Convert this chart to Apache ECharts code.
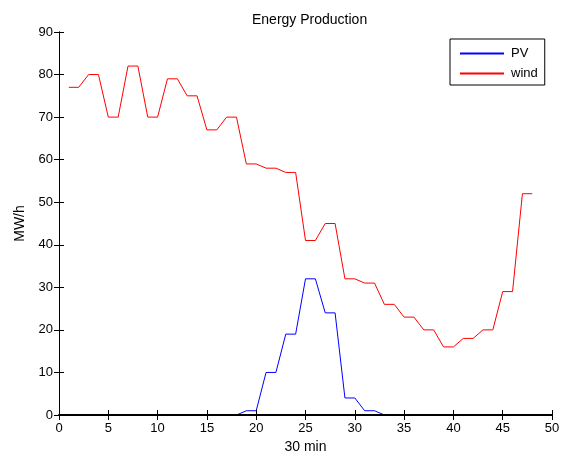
<!DOCTYPE html>
<html>
<head>
<meta charset="utf-8">
<script src="https://cdn.jsdelivr.net/npm/echarts@6/dist/echarts.min.js"></script>
<style>
  html, body { margin: 0; padding: 0; background: #fff; }
  #main { width: 563px; height: 459px; }
</style>
</head>
<body>
<div id="main"></div>
<script>
// half-hour slots 1..48
var slots = [1, 2, 3, 4, 5, 6, 7, 8, 9, 10, 11, 12, 13, 14, 15, 16, 17, 18, 19, 20, 21, 22, 23, 24,
    25, 26, 27, 28, 29, 30, 31, 32, 33, 34, 35, 36, 37, 38, 39, 40, 41, 42, 43, 44, 45, 46, 47, 48];

var pv = [0, 0, 0, 0, 0, 0, 0, 0, 0, 0, 0, 0, 0, 0, 0, 0, 0, 0, 1, 1, 10, 10, 19, 19,
    32, 32, 24, 24, 4, 4, 1, 1, 0, 0, 0, 0, 0, 0, 0, 0, 0, 0, 0, 0, 0, 0, 0, 0];

var wind = [77, 77, 80, 80, 70, 70, 82, 82, 70, 70, 79, 79, 75, 75, 67, 67, 70, 70, 59, 59, 58, 58, 57, 57,
    41, 41, 45, 45, 32, 32, 31, 31, 26, 26, 23, 23, 20, 20, 16, 16, 18, 18, 20, 20, 29, 29, 52, 52];

var seriesNames = ['PV', 'wind'];
var seriesColors = ['#0000ff', '#ff0000'];

function pairs(xs, ys) {
    return xs.map(function (x, i) { return [x, ys[i]]; });
}

var font = 'Liberation Sans, Arial, sans-serif';

var myChart = echarts.init(document.getElementById('main'));

// box axes: labels only on bottom/left, ticks inward on all four sides
var boxAxis = {
    min: 0,
    axisLine: { show: true, lineStyle: { color: '#000', width: 1 } },
    axisTick: { show: true, inside: true, length: 5, lineStyle: { color: '#000' } },
    splitLine: { show: false },
    z: 10
};

myChart.setOption({
    animation: false,
    backgroundColor: '#fff',
    title: {
        text: 'Energy Production',
        left: 247,
        top: 8,
        textStyle: { fontFamily: font, fontSize: 14, fontWeight: 'normal', color: '#000' }
    },
    legend: {
        data: seriesNames,
        orient: 'vertical',
        left: 450,
        top: 39,
        padding: [8, 7, 5, 9],
        itemGap: 7,
        itemWidth: 44,
        itemHeight: 14,
        // hide the symbol, keep only the line
        itemStyle: { opacity: 0 },
        backgroundColor: '#fff',
        borderColor: '#000',
        borderWidth: 1,
        borderRadius: 0,
        textStyle: { fontFamily: font, fontSize: 13, color: '#000', padding: [0, 0, 0, 2] }
    },
    grid: {
        left: 59,
        right: 11,
        top: 32,
        bottom: 39,
        containLabel: false
    },
    xAxis: [
        Object.assign({}, boxAxis, {
            type: 'value',
            max: 50,
            interval: 5,
            position: 'bottom',
            name: '30 min',
            nameLocation: 'middle',
            nameGap: 25,
            nameTextStyle: { fontFamily: font, fontSize: 14, color: '#000' },
            // a bit heavier so the zero part of PV stays hidden under it
            axisLine: { show: true, lineStyle: { color: '#000', width: 2 } },
            axisLabel: { fontFamily: font, fontSize: 13, color: '#000', margin: 7 }
        }),
        Object.assign({}, boxAxis, {
            type: 'value',
            max: 50,
            interval: 5,
            position: 'top',
            axisLabel: { show: false }
        })
    ],
    yAxis: [
        Object.assign({}, boxAxis, {
            type: 'value',
            max: 90,
            interval: 10,
            position: 'left',
            name: 'MW/h',
            nameLocation: 'middle',
            nameGap: 30,
            nameTextStyle: { fontFamily: font, fontSize: 14, color: '#000' },
            axisLabel: { fontFamily: font, fontSize: 13, color: '#000', margin: 6 }
        }),
        Object.assign({}, boxAxis, {
            type: 'value',
            max: 90,
            interval: 10,
            position: 'right',
            axisLabel: { show: false }
        })
    ],
    series: [
        {
            name: 'PV',
            type: 'line',
            data: pairs(slots, pv),
            showSymbol: false,
            symbol: 'none',
            z: 1,
            itemStyle: { color: seriesColors[0] },
            lineStyle: { color: seriesColors[0], width: 1 }
        },
        {
            name: 'wind',
            type: 'line',
            data: pairs(slots, wind),
            showSymbol: false,
            symbol: 'none',
            z: 1,
            itemStyle: { color: seriesColors[1] },
            lineStyle: { color: seriesColors[1], width: 1 }
        }
    ]
});
</script>
</body>
</html>
